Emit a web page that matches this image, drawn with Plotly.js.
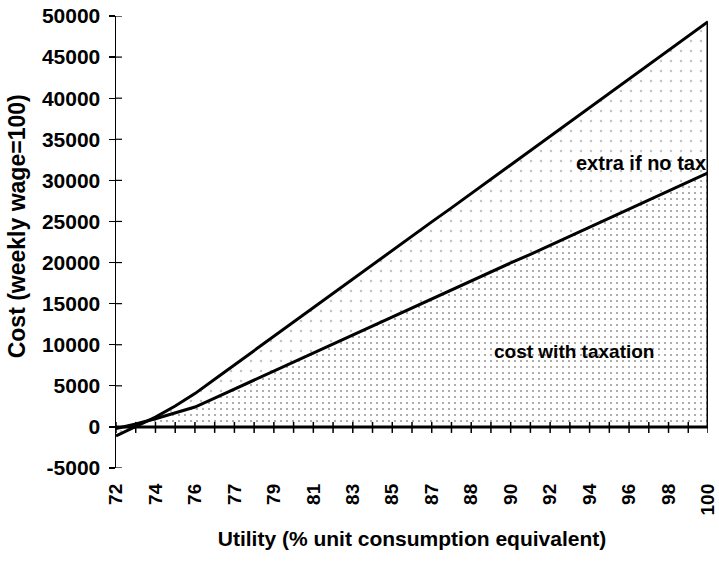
<!DOCTYPE html>
<html>
<head>
<meta charset="utf-8">
<script src="https://cdn.plot.ly/plotly-3.0.1.min.js"></script>
<style>html,body{margin:0;padding:0;background:#fff;}#chart{width:719px;height:561px;}</style>
</head>
<body>
<div id="chart"></div>
<script>
// Category positions (31 points along the utility axis, every other one labelled)
const pointIndex = [0,1,2,3,4,5,6,7,8,9,10,11,12,13,14,15,16,17,18,19,20,21,22,23,24,25,26,27,28,29,30];
const labelIndex = [0,2,4,6,8,10,12,14,16,18,20,22,24,26,28,30];
const tickLabels = ['72','74','76','77','79','81','83','85','87','88','90','92','94','96','98','100'];

// Cost with taxation (lower area)
const costWithTax = [-200,350,1000,1700,2420,3500,4600,5700,6800,7900,9000,10100,11200,12300,13400,14500,15550,16650,17750,18850,19950,21000,22100,23200,24300,25400,26500,27600,28700,29800,30900];
// Cost without taxation (upper line; area between = extra if no tax)
const costNoTax = [-1100,0,1200,2550,4050,5800,7550,9300,11000,12750,14500,16250,18000,19700,21450,23200,24950,26650,28400,30150,31900,33600,35350,37100,38850,40600,42350,44050,45800,47550,49300];

const yTicks = [-5000,0,5000,10000,15000,20000,25000,30000,35000,40000,45000,50000];
const yTickText = ['-5000','0','5000','10000','15000','20000','25000','30000','35000','40000','45000','50000'];

const FONT = 'Liberation Sans, Arial, Helvetica, sans-serif';

const traces = [
  {
    x: pointIndex, y: costWithTax, name: 'cost with taxation',
    type: 'scatter', mode: 'lines',
    line: {color: '#000', width: 3},
    fill: 'tozeroy',
    fillcolor: '#ffffff',
    fillpattern: {shape: '.', fgcolor: '#9a9a9a', bgcolor: '#ffffff', size: 6, solidity: 0.1},
    hoverinfo: 'x+y'
  },
  {
    x: pointIndex, y: costNoTax, name: 'extra if no tax',
    type: 'scatter', mode: 'lines',
    line: {color: '#000', width: 3},
    fill: 'tonexty',
    fillcolor: '#ffffff',
    fillpattern: {shape: '.', fgcolor: '#c4c4c4', bgcolor: '#ffffff', size: 10, solidity: 0.05},
    hoverinfo: 'x+y'
  }
];

const last = pointIndex.length - 1;
const shapes = [];
// thick baseline of the areas at zero
shapes.push({type: 'line', xref: 'x', yref: 'y', x0: pointIndex[0], x1: pointIndex[last],
  y0: 0, y1: 0, line: {color: '#000', width: 3}});
// category tick marks crossing the zero baseline
pointIndex.forEach(function (p) {
  shapes.push({type: 'line', xref: 'x', yref: 'y', ysizemode: 'pixel', yanchor: 0,
    x0: p, x1: p, y0: -6, y1: 5, line: {color: '#000', width: 1.5}});
});
// inner half of the value-axis tick marks
yTicks.forEach(function (v) {
  shapes.push({type: 'line', xref: 'x', yref: 'y', xsizemode: 'pixel', xanchor: pointIndex[0],
    x0: 0, x1: 6, y0: v, y1: v, line: {color: '#000', width: 1.2}});
});
// right edge of the area
shapes.push({type: 'line', xref: 'x', yref: 'y', x0: pointIndex[last], x1: pointIndex[last],
  y0: 0, y1: costNoTax[last], line: {color: '#000', width: 3}});

const layout = {
  width: 719, height: 561,
  margin: {l: 116, r: 11, t: 16, b: 93},
  paper_bgcolor: '#fff', plot_bgcolor: '#fff',
  showlegend: false,
  font: {family: FONT, size: 19, color: '#000', weight: 'bold'},
  xaxis: {
    range: [pointIndex[0], pointIndex[last]],
    tickmode: 'array', tickvals: labelIndex, ticktext: tickLabels,
    tickangle: -90, ticks: '', showline: false, showgrid: false, zeroline: false,
    ticklabelstandoff: 11, ticklabeloverflow: 'allow',
    tickfont: {family: FONT, size: 19, color: '#000', weight: 'bold'},
    title: {text: 'Utility (% unit consumption equivalent)', font: {family: FONT, size: 21, color: '#000', weight: 'bold'}, standoff: 16}
  },
  yaxis: {
    range: [-5000, 50000],
    tickmode: 'array', tickvals: yTicks, ticktext: yTickText,
    ticks: 'outside', ticklen: 6, tickwidth: 1.2, tickcolor: '#000',
    showline: true, linecolor: '#000', linewidth: 1.5,
    showgrid: false, zeroline: false,
    ticklabelstandoff: 4,
    tickfont: {family: FONT, size: 21, color: '#000', weight: 'bold'}
  },
  shapes: shapes,
  annotations: [
    {xref: 'paper', yref: 'paper', x: -0.167, y: 0.535, xanchor: 'center', yanchor: 'middle',
      text: 'Cost (weekly wage=100)', textangle: -90, showarrow: false,
      font: {family: FONT, size: 23, color: '#000', weight: 'bold'}},
    {x: 26.6, y: 32100, xref: 'x', yref: 'y', text: 'extra if no tax', showarrow: false,
      font: {family: FONT, size: 20, color: '#000', weight: 'bold'}},
    {x: 23.2, y: 9200, xref: 'x', yref: 'y', text: 'cost with taxation', showarrow: false,
      font: {family: FONT, size: 19, color: '#000', weight: 'bold'}}
  ]
};

Plotly.newPlot('chart', traces, layout, {displayModeBar: false, staticPlot: true});
</script>
</body>
</html>
